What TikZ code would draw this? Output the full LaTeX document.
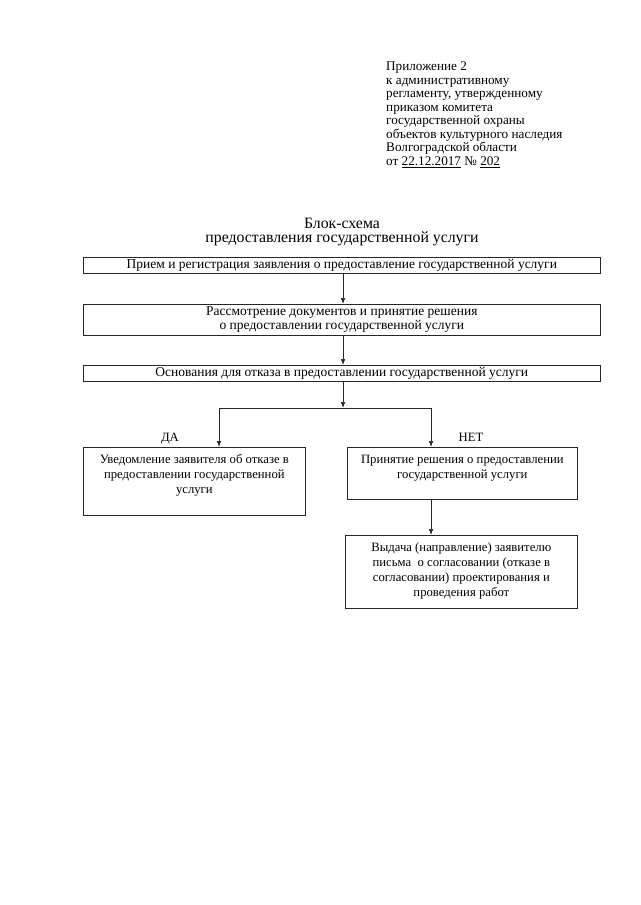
\documentclass[tikz,border=0pt]{standalone}
\usepackage{fontspec}
\setmainfont{Liberation Serif}
\usetikzlibrary{arrows.meta,calc}
\begin{document}
\begin{tikzpicture}[x=1pt,y=-1pt,
  box/.style={draw=black!85, line width=0.7pt, rectangle, inner sep=0pt},
  txtA/.style={inner sep=0pt, align=center, font=\fontsize{13.5}{14}\selectfont},
  txtB/.style={inner sep=0pt, align=center, font=\fontsize{12.7}{15}\selectfont},
  hdr/.style={inner sep=0pt, align=left, font=\fontsize{13.2}{13.5}\selectfont},
  ttl/.style={inner sep=0pt, align=center, font=\fontsize{15.8}{14}\selectfont},
  lbl/.style={inner sep=0pt, anchor=base, font=\fontsize{12.7}{14}\selectfont},
  arr/.style={draw=black!85, line width=0.7pt, -{Latex[length=6pt,width=4.6pt]}},
  ln/.style={draw=black!85, line width=0.7pt}
]
\useasboundingbox[fill=white] (0,0) rectangle (640,905);

\node[hdr, anchor=north west] (hdr) at (386,62) {Приложение 2\\
к административному\\
регламенту, утвержденному\\
приказом комитета\\
государственной охраны\\
объектов культурного наследия\\
Волгоградской области\\
от \underline{22.12.2017} № \underline{202}};

\node[ttl, anchor=north] (title) at (342,218) {Блок-схема\\предоставления государственной услуги};

% boxes
\node[box, minimum width=517pt, minimum height=16pt, anchor=north west] (b1) at (83,257) {};
\node[txtA] (t1) at (b1.center) {Прием и регистрация заявления о предоставление государственной услуги};

\node[box, minimum width=517pt, minimum height=31pt, anchor=north west] (b2) at (83,304) {};
\node[txtA] (t2) at (b2.center) {Рассмотрение документов и принятие решения\\о предоставлении государственной услуги};

\node[box, minimum width=517pt, minimum height=16pt, anchor=north west] (b3) at (83,365) {};
\node[txtA] (t3) at (b3.center) {Основания для отказа в предоставлении государственной услуги};

\node[box, minimum width=222pt, minimum height=68pt, anchor=north west] (da) at (83,447) {};
\node[txtB, anchor=north] (tda) at ([yshift=-7pt]da.north) {Уведомление заявителя об отказе в\\предоставлении государственной\\услуги};

\node[box, minimum width=230pt, minimum height=52pt, anchor=north west] (net) at (347,447) {};
\node[txtB, anchor=north] (tnet) at ([yshift=-8pt]net.north) {Принятие решения о предоставлении\\государственной услуги};

\node[box, minimum width=232pt, minimum height=73pt, anchor=north west] (out) at (345,535) {};
\node[txtB, anchor=north] (tout) at ([yshift=-7pt]out.north) {Выдача (направление) заявителю\\письма\ \ о согласовании (отказе в\\согласовании) проектирования и\\проведения работ};

\node[lbl] (lda) at (170,441) {ДА};
\node[lbl] (lnet) at (471,441) {НЕТ};

% connectors
\coordinate (split) at (343,408);
\coordinate (lft) at (219,408);
\coordinate (rgt) at (431,408);
\draw[arr] (b1.south -| split) -- (b2.north -| split);
\draw[arr] (b2.south -| split) -- (b3.north -| split);
\draw[arr] (b3.south -| split) -- (split);
\draw[ln] (lft) -- (rgt);
\draw[arr] (lft) -- (lft |- da.north);
\draw[arr] (rgt) -- (rgt |- net.north);
\draw[arr] (net.south -| rgt) -- (rgt |- out.north);
\end{tikzpicture}
\end{document}
